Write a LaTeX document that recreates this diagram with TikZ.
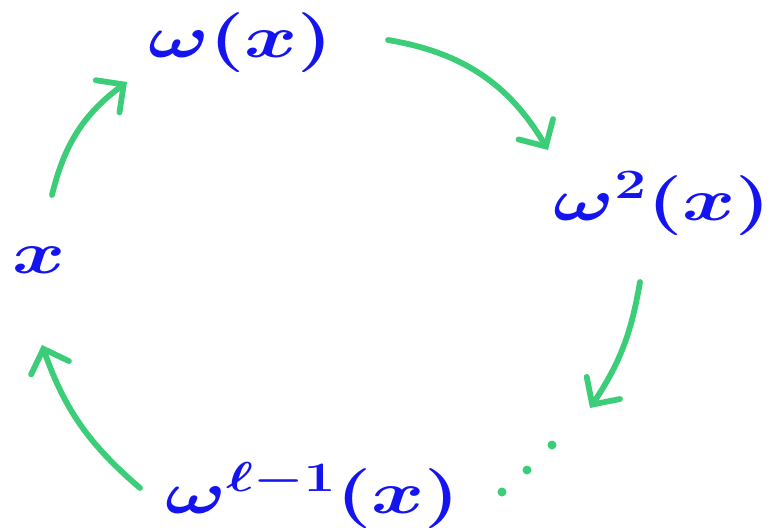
\documentclass[tikz,border=0pt]{standalone}
\usepackage{fix-cm}
\usepackage{amsmath, amssymb}
\usepackage{tikz}
\usetikzlibrary{arrows.meta, positioning, calc}
\definecolor{handblue}{RGB}{20,20,240}
\definecolor{handgreen}{RGB}{60,205,120}
\tikzset{
  term/.style={anchor=base west, inner sep=0pt, xscale=1.35, text=handblue, font=\fontsize{34}{40}\selectfont\boldmath},
  cyclearrow/.style={handgreen, line width=3.3pt, line cap=round, -{Straight Barb[length=4mm, width=8mm, line cap=round]}},
  dotmark/.style={fill=handgreen, draw=none}
}
\begin{document}
\begin{tikzpicture}
  \useasboundingbox (0,0) rectangle (15.46,10.58);
  % terms of the cycle
  \node[term] (x)  at (0.24, 5.12)  {$x$};
  \node[term] (w1) at (2.96, 9.44)  {$\omega(x)$};
  \node[term] (w2) at (11.06, 6.18) {$\omega^{2}(x)$};
  \node[term] (wl) at (3.3, 0.32)   {$\omega^{\ell-1}(x)$};

  % arrows
  \draw[cyclearrow] ([shift={(0.8,1.56)}]x.base west) to[bend left=20] ([shift={(-0.42,-0.5)}]w1.base west);
  \draw[cyclearrow] ([shift={(4.8,0.34)}]w1.base west) to[bend left=25] ([shift={(-0.1,1.4)}]w2.base west);
  \draw[cyclearrow] ([shift={(1.74,-1.24)}]w2.base west) to[bend left=12] ([shift={(8.5,2.1)}]wl.base west);
  \draw[cyclearrow] ([shift={(-0.5,0.5)}]wl.base west) to[bend left=15] ([shift={(0.6,-1.44)}]x.base west);

  % dots
  \fill[dotmark] (10.04,0.74) circle (0.09);
  \fill[dotmark] (10.54,1.18) circle (0.09);
  \fill[dotmark] (11.04,1.68) circle (0.09);
\end{tikzpicture}
\end{document}
